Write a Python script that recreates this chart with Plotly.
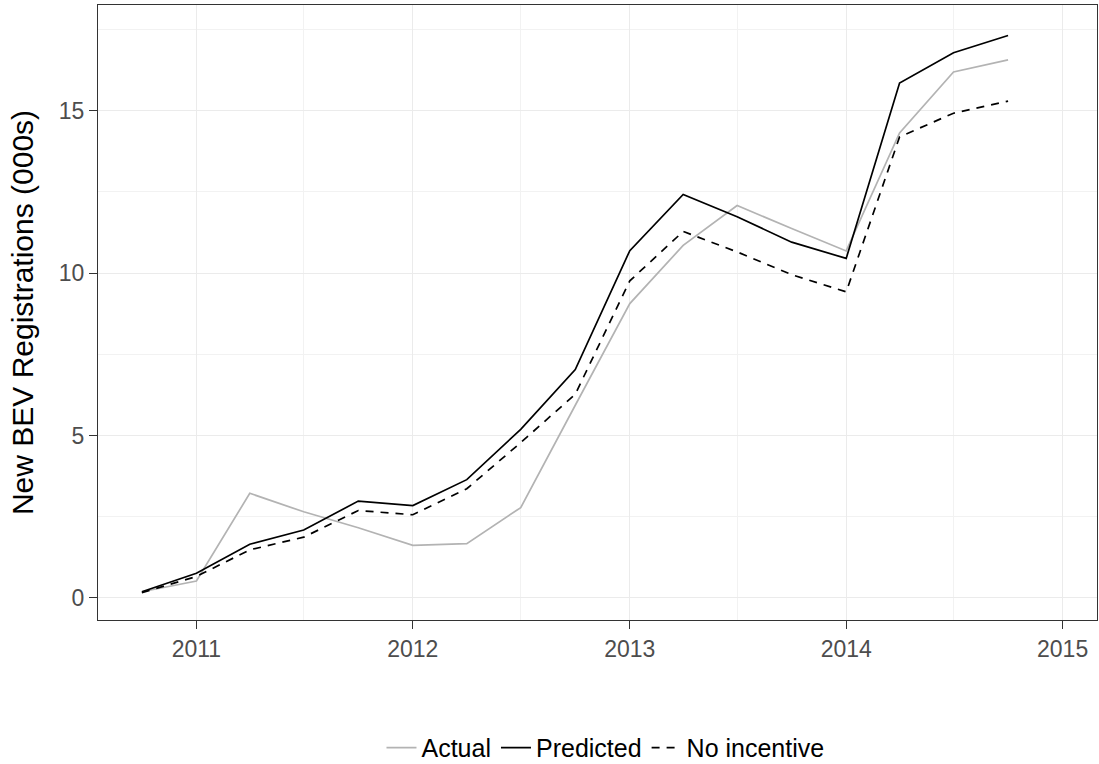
import plotly.graph_objects as go

# Quarterly observation dates
quarters = [
    "2010-10-01", "2011-01-01", "2011-04-01", "2011-07-01", "2011-10-01",
    "2012-01-01", "2012-04-01", "2012-07-01", "2012-10-01",
    "2013-01-01", "2013-04-01", "2013-07-01", "2013-10-01",
    "2014-01-01", "2014-04-01", "2014-07-01", "2014-10-01",
]

# New BEV registrations, thousands
actual = [0.19, 0.52, 3.22, 2.65, 2.16, 1.62, 1.67, 2.78, 5.93,
          9.06, 10.85, 12.08, 11.37, 10.68, 14.31, 16.19, 16.56]
predicted = [0.19, 0.76, 1.65, 2.09, 2.98, 2.84, 3.64, 5.19, 7.03,
             10.69, 12.42, 11.73, 10.95, 10.45, 15.85, 16.78, 17.31]
no_incentive = [0.16, 0.66, 1.48, 1.87, 2.69, 2.56, 3.36, 4.78, 6.27,
                9.76, 11.28, 10.65, 9.95, 9.42, 14.19, 14.92, 15.29]

year_ticks = ["2011-01-01", "2012-01-01", "2013-01-01", "2014-01-01", "2015-01-01"]
year_labels = ["2011", "2012", "2013", "2014", "2015"]
y_ticks = [0, 5, 10, 15]

fig = go.Figure()
fig.add_trace(go.Scatter(x=quarters, y=actual, mode="lines", name="Actual",
                         line=dict(color="#b3b3b3", width=1.7)))
fig.add_trace(go.Scatter(x=quarters, y=predicted, mode="lines", name="Predicted",
                         line=dict(color="#000000", width=1.7)))
fig.add_trace(go.Scatter(x=quarters, y=no_incentive, mode="lines", name="No incentive",
                         line=dict(color="#000000", width=1.7, dash="8px,7px")))

fig.update_layout(
    width=1099, height=764,
    margin=dict(l=98, r=2, t=5, b=144, autoexpand=False),
    paper_bgcolor="white", plot_bgcolor="white",
    font=dict(family="Liberation Sans, Arial, sans-serif", color="#000000"),
    showlegend=True,
    legend=dict(orientation="h", x=0.508, xanchor="center", y=-0.208, yanchor="middle",
                font=dict(size=25, color="#000000"), itemwidth=30, tracegroupgap=0),
)

fig.update_xaxes(
    type="date", automargin=False,
    range=["2010-07-19", "2015-02-28"],
    tickvals=year_ticks, ticktext=year_labels,
    ticks="outside", ticklen=8, tickcolor="#333333", tickwidth=1,
    tickfont=dict(size=23, color="#4d4d4d"),
    showgrid=True, gridcolor="#ebebeb", gridwidth=1.3,
    minor=dict(dtick="M12", tick0="2011-07-01", showgrid=True,
               gridcolor="#f2f2f2", gridwidth=0.8),
    showline=True, linecolor="#333333", linewidth=1, mirror=True,
    zeroline=False,
)
fig.update_yaxes(
    automargin=False,
    range=[-0.68, 18.25],
    tickvals=y_ticks,
    ticks="outside", ticklen=8, tickcolor="#333333", tickwidth=1,
    tickfont=dict(size=23, color="#4d4d4d"),
    showgrid=True, gridcolor="#ebebeb", gridwidth=1.3,
    minor=dict(dtick=5, tick0=2.5, showgrid=True, gridcolor="#f2f2f2", gridwidth=0.8),
    showline=True, linecolor="#333333", linewidth=1, mirror=True,
    zeroline=False,
    title=dict(text="New BEV Registrations (000s)", font=dict(size=30, color="#000000"),
               standoff=16),
)

fig.write_html("out.html")
